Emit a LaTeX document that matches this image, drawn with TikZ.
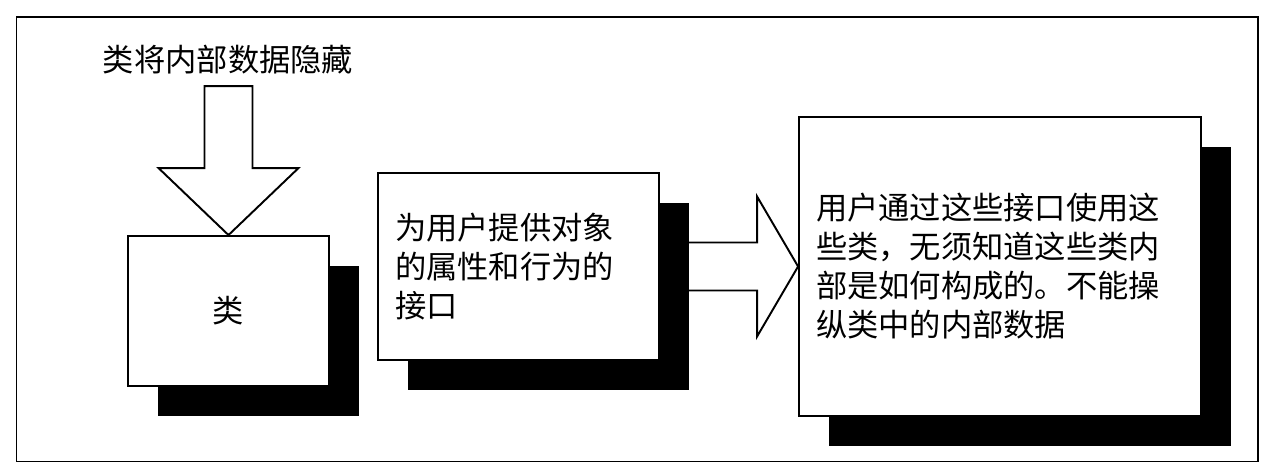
\documentclass[tikz,border=0pt]{standalone}
\usepackage{fontspec}
\setmainfont{Noto Sans CJK SC}
\usetikzlibrary{calc,shadows,backgrounds}

\begin{document}
\begin{tikzpicture}[
    x=0.02cm, y=-0.02cm,
    font=\fontsize{17.8pt}{22.2pt}\selectfont,
    box/.style={draw, line width=1.1pt, fill=white,
                drop shadow={opacity=1, fill=black,
                             shadow xshift=0.6cm, shadow yshift=-0.6cm}},
    txt/.style={align=left, inner xsep=0.34cm},
    blockarr/.style={draw, line width=1.1pt, fill=white, line join=miter}
  ]
  \useasboundingbox (0,0) rectangle (1280,473);
  % Outer frame
  \draw[line width=1.1pt] (16.5,17) rectangle (1258,461.5);
  % Title and class box
  \node (hide) at (228,60) {类将内部数据隐藏};
  \node[box, minimum width=4.02cm, minimum height=3cm] (cls) at (228.5,311) {类};
  \draw[blockarr] (cls.north) -- ++(-70,-67) -- ++(46,0) -- ++(0,-82)
        -- ++(48,0) -- ++(0,82) -- ++(46,0) -- cycle;
  % Interface box
  \node[box, txt, text width=4.94cm, minimum height=3.74cm] (intf) at (518.5,266.5)
        {为用户提供对象\\的属性和行为的\\接口};
  % User box
  \node[box, txt, text width=7.36cm, minimum height=5.98cm] (users) at (1000,266.5)
        {用户通过这些接口使用这\\些类，无须知道这些类内\\部是如何构成的。不能操\\纵类中的内部数据};
  % Arrow behind the interface box
  \begin{scope}[on background layer]
    \draw[blockarr] (users.west) -- ++(-41,-70) -- ++(0,46)
          -- ($(intf.center)+(0,-24)$) -- ($(intf.center)+(0,24)$)
          -- ($(users.west)+(-41,24)$) -- ++(0,46) -- cycle;
  \end{scope}
\end{tikzpicture}
\end{document}
